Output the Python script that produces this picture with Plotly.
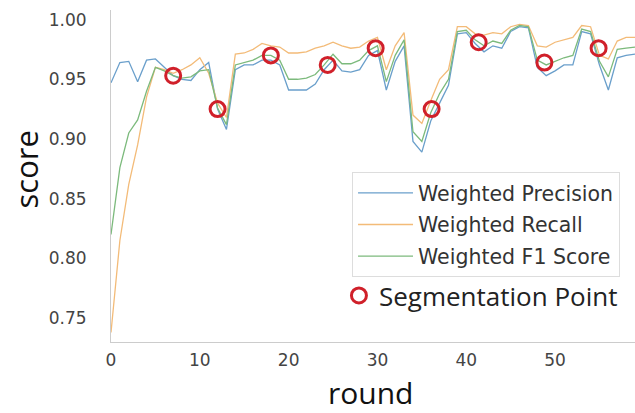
import plotly.graph_objects as go

rounds = list(range(60))
precision = [0.947, 0.964, 0.965, 0.948, 0.966, 0.967, 0.960, 0.953, 0.950, 0.949,
             0.958, 0.964, 0.925, 0.908, 0.958, 0.962, 0.962, 0.966, 0.966, 0.962,
             0.941, 0.941, 0.941, 0.946, 0.958, 0.966, 0.957, 0.956, 0.958, 0.970,
             0.974, 0.941, 0.965, 0.978, 0.898, 0.889, 0.915, 0.930, 0.945, 0.988,
             0.989, 0.980, 0.973, 0.978, 0.976, 0.990, 0.994, 0.993, 0.960, 0.953,
             0.957, 0.962, 0.962, 0.990, 0.988, 0.962, 0.941, 0.968, 0.970, 0.971]
recall = [0.738, 0.815, 0.862, 0.895, 0.935, 0.960, 0.958, 0.955, 0.958, 0.962,
          0.968, 0.955, 0.930, 0.918, 0.971, 0.972, 0.975, 0.980, 0.978, 0.977,
          0.972, 0.972, 0.973, 0.976, 0.978, 0.981, 0.978, 0.976, 0.977, 0.982,
          0.985, 0.958, 0.978, 0.989, 0.920, 0.913, 0.932, 0.950, 0.958, 0.994,
          0.994, 0.988, 0.987, 0.989, 0.988, 0.994, 0.996, 0.995, 0.978, 0.977,
          0.981, 0.983, 0.985, 0.995, 0.994, 0.970, 0.967, 0.982, 0.985, 0.985]
f1 = [0.820, 0.876, 0.905, 0.916, 0.940, 0.960, 0.957, 0.953, 0.951, 0.952,
      0.957, 0.958, 0.926, 0.912, 0.962, 0.964, 0.966, 0.970, 0.970, 0.966,
      0.950, 0.950, 0.951, 0.954, 0.962, 0.971, 0.963, 0.963, 0.966, 0.974,
      0.978, 0.948, 0.970, 0.983, 0.906, 0.898, 0.922, 0.938, 0.950, 0.990,
      0.991, 0.983, 0.978, 0.982, 0.980, 0.991, 0.995, 0.994, 0.966, 0.962,
      0.965, 0.968, 0.970, 0.992, 0.990, 0.965, 0.952, 0.975, 0.976, 0.977]

seg_x = [7, 12, 18, 24.4, 29.8, 36.1, 41.4, 48.8, 54.9]
seg_y = [0.953, 0.925, 0.970, 0.962, 0.976, 0.925, 0.981, 0.964, 0.976]

series = [
    ("Weighted Precision", precision, "#6a9fcb"),
    ("Weighted Recall", recall, "#f3bb78"),
    ("Weighted F1 Score", f1, "#7cba7c"),
]

fig = go.Figure()
for i, (name, vals, col) in enumerate(series):
    fig.add_trace(go.Scatter(
        x=rounds, y=vals, mode="lines", name=name,
        line=dict(color=col, width=1.3),
        legendgroup=f"g{i}", legend="legend",
    ))

fig.add_trace(go.Scatter(
    x=seg_x, y=seg_y, mode="markers", name="Segmentation Point",
    marker=dict(symbol="circle-open", size=15, color="#d0202a",
                line=dict(width=3, color="#d0202a")),
    legend="legend2",
))

fig.update_layout(
    width=635, height=413,
    margin=dict(l=111, r=0, t=10, b=71),
    paper_bgcolor="white", plot_bgcolor="white",
    showlegend=True,
    legend=dict(
        x=0.46, y=0.512, xanchor="left", yanchor="top",
        bordercolor="#dddddd", borderwidth=1, bgcolor="white",
        font=dict(family="DejaVu Sans", size=20.5, color="#333333"),
        tracegroupgap=2, itemwidth=55,
    ),
    legend2=dict(
        x=0.435, y=0.14, xanchor="left", yanchor="middle",
        bgcolor="rgba(0,0,0,0)", borderwidth=0,
        font=dict(family="Open Sans", size=26, color="#222222"),
        itemwidth=30,
    ),
    annotations=[
        dict(text="round", xref="paper", yref="paper", x=0.496, y=-0.151,
             xanchor="center", yanchor="middle", showarrow=False, borderpad=0,
             font=dict(family="Open Sans", size=30, color="#111111")),
        dict(text="score", xref="paper", yref="paper", x=-0.162, y=0.52,
             xanchor="center", yanchor="middle", showarrow=False, textangle=-90,
             font=dict(family="Open Sans", size=31, color="#111111")),
    ],
)

fig.update_xaxes(
    range=[0, 59], dtick=10, tick0=0,
    showgrid=False, zeroline=False,
    showline=True, linecolor="#cccccc", linewidth=1,
    ticks="", ticklabelstandoff=3,
    tickfont=dict(family="DejaVu Sans", size=17, color="#444444"),
)
fig.update_yaxes(
    range=[0.73, 1.008], tickvals=[0.75, 0.80, 0.85, 0.90, 0.95, 1.00],
    tickformat=".2f",
    showgrid=False, zeroline=False,
    showline=True, linecolor="#cccccc", linewidth=1,
    ticks="", ticklabelstandoff=20,
    tickfont=dict(family="DejaVu Sans", size=17, color="#444444"),
)

fig.write_html("out.html")
